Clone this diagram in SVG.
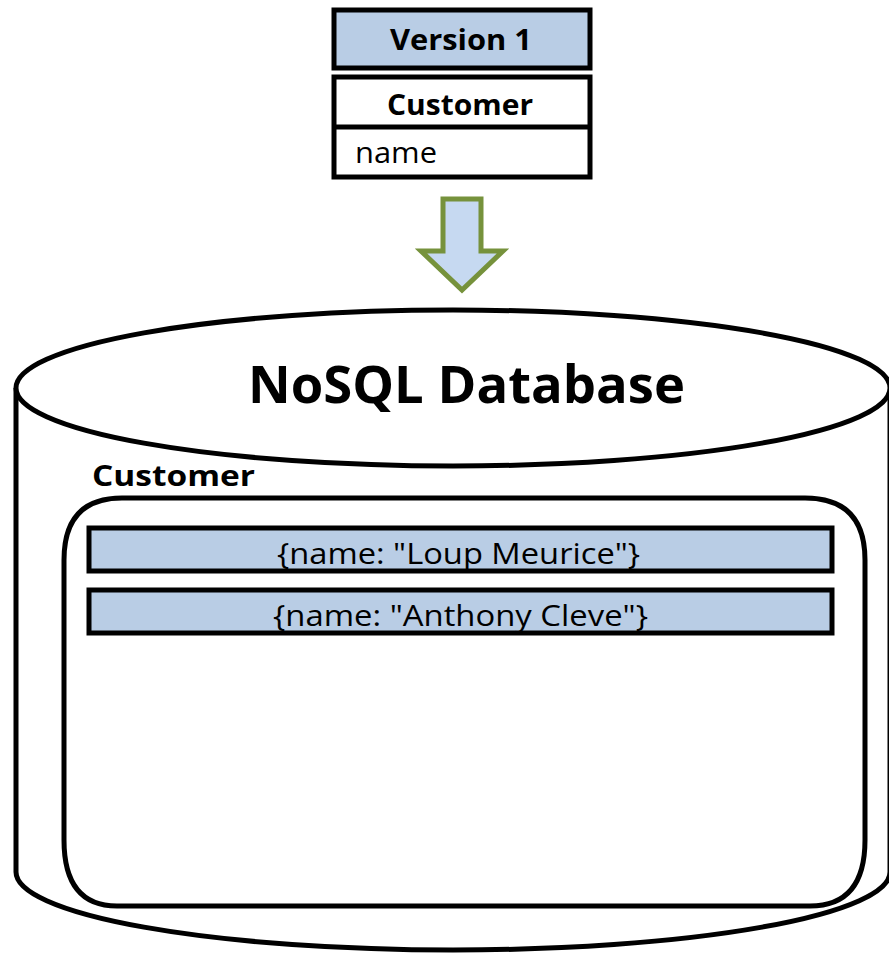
<svg xmlns="http://www.w3.org/2000/svg" width="889" height="953" viewBox="0 0 889 953">
<style>
.box{stroke:#000;stroke-width:5;}
.blue{fill:#b9cde5;}
.white{fill:#fff;}
.t{font-family:"Open Sans","Noto Sans","Liberation Sans",sans-serif;fill:#000;}
.b{font-weight:bold;}
</style>
<rect width="889" height="953" fill="#fff"/>
<g id="db">
<path d="M16,388 L16,872 A437,78 0 0 0 890,872 L890,388" fill="#fff" stroke="#000" stroke-width="5"/>
<ellipse cx="453" cy="388" rx="437" ry="78" fill="#fff" stroke="#000" stroke-width="5"/>
<text class="t b" x="248" y="403" font-size="52" textLength="437" lengthAdjust="spacingAndGlyphs">NoSQL Database</text>
</g>
<g id="collection">
<text class="t b" x="92" y="486" font-size="29" textLength="163" lengthAdjust="spacingAndGlyphs">Customer</text>
<path d="M122,498 L805,498 Q865,498 865,560 L865,840 Q865,906 810,906 L117,906 Q64,906 64,840 L64,560 Q64,498 122,498 Z" fill="#fff" stroke="#000" stroke-width="5"/>
</g>
<g id="doc1">
<rect class="box blue" x="89" y="528" width="743" height="43"/>
<text class="t" x="277" y="564" font-size="29" textLength="363" lengthAdjust="spacingAndGlyphs">{name: "Loup Meurice"}</text>
</g>
<g id="doc2">
<rect class="box blue" x="89" y="590" width="743" height="43"/>
<text class="t" x="273" y="626" font-size="29" textLength="375" lengthAdjust="spacingAndGlyphs">{name: "Anthony Cleve"}</text>
</g>
<g id="version">
<rect class="box blue" x="334" y="10" width="256" height="58"/>
<text class="t b" x="390" y="50" font-size="28" textLength="142" lengthAdjust="spacingAndGlyphs">Version 1</text>
</g>
<g id="customer-class">
<rect class="box white" x="334" y="77" width="256" height="100"/>
<line x1="334" y1="127" x2="590" y2="127" stroke="#000" stroke-width="5"/>
<text class="t b" x="387" y="115" font-size="29" textLength="146" lengthAdjust="spacingAndGlyphs">Customer</text>
<text class="t" x="355" y="163" font-size="29" textLength="82" lengthAdjust="spacingAndGlyphs">name</text>
</g>
<g id="connectors">
<path d="M443,199 L481,199 L481,251 L503,251 L462,290 L421,251 L443,251 Z" fill="#c6d9f1" stroke="#76923c" stroke-width="5"/>
</g>
</svg>
